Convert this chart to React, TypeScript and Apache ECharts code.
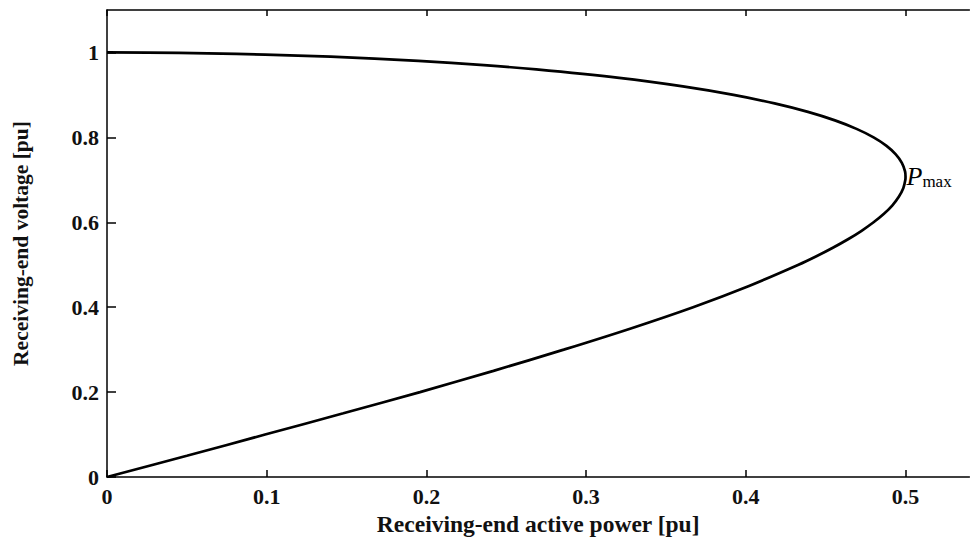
import React, { useEffect, useRef } from "react";
import * as echarts from "echarts";

// Receiving-end voltage [pu] (lower branch -> nose -> upper branch)
const voltage = [
  0.0, 0.05, 0.1, 0.15, 0.2, 0.25, 0.3, 0.35, 0.4, 0.45, 0.5, 0.52, 0.54, 0.56,
  0.58, 0.6, 0.62, 0.64, 0.66, 0.68, 0.7, 0.707, 0.72, 0.74, 0.76, 0.78, 0.8,
  0.82, 0.84, 0.86, 0.88, 0.9, 0.92, 0.94, 0.96, 0.97, 0.98, 0.99, 0.995, 0.998,
  0.999, 1.0,
];
// Receiving-end active power [pu]
const power = [
  0.0, 0.05, 0.099, 0.148, 0.196, 0.242, 0.286, 0.328, 0.367, 0.402, 0.433,
  0.4442, 0.4545, 0.464, 0.4725, 0.48, 0.4865, 0.4918, 0.4958, 0.4986, 0.4999,
  0.5, 0.4997, 0.4977, 0.4939, 0.4881, 0.48, 0.4693, 0.4558, 0.4389, 0.418,
  0.3923, 0.3606, 0.3207, 0.2688, 0.236, 0.195, 0.14, 0.099, 0.063, 0.045, 0.0,
];
const xTicks = [0, 0.1, 0.2, 0.3, 0.4, 0.5];
const yTicks = [0, 0.2, 0.4, 0.6, 0.8, 1];
const pmaxPoint = [0.5, 0.707];

const FONT = '"Liberation Serif", "DejaVu Serif", "Times New Roman", serif';

export default function App() {
  const ref = useRef<HTMLDivElement>(null);
  useEffect(() => {
    if (!ref.current) return;
    const chart = echarts.init(ref.current, null, { renderer: "svg" });
    const axisLine = { show: true, lineStyle: { color: "#000", width: 1.5 } };
    const tickLabel = {
      color: "#111",
      fontFamily: FONT,
      fontWeight: "bold" as const,
      fontSize: 22,
    };
    chart.setOption({
      animation: false,
      backgroundColor: "#fff",
      grid: { left: 107, right: 2.6, top: 10, bottom: 64 },
      xAxis: [
        {
          type: "value",
          min: 0,
          max: 0.54,
          position: "bottom",
          axisLine,
          splitLine: { show: false },
          axisTick: {
            show: true,
            inside: true,
            length: 7,
            lineStyle: { color: "#000", width: 1.5 },
            customValues: xTicks,
          },
          axisLabel: {
            ...tickLabel,
            margin: 8,
            customValues: xTicks,
            formatter: (v: number) => String(Number(v.toFixed(2))),
          },
          name: "Receiving-end active power [pu]",
          nameLocation: "middle",
          nameGap: 29,
          nameTextStyle: { ...tickLabel, fontSize: 23.5 },
        },
        {
          type: "value",
          min: 0,
          max: 0.54,
          position: "top",
          axisLine,
          splitLine: { show: false },
          axisTick: {
            show: true,
            inside: true,
            length: 6,
            lineStyle: { color: "#000", width: 1.5 },
            customValues: xTicks,
          },
          axisLabel: { show: false },
        },
      ],
      yAxis: {
        type: "value",
        min: 0,
        max: 1.1,
        axisLine,
        splitLine: { show: false },
        axisTick: {
          show: true,
          inside: true,
          length: 9,
          lineStyle: { color: "#000", width: 1.5 },
          customValues: yTicks,
        },
        axisLabel: {
          ...tickLabel,
          margin: 8,
          customValues: yTicks,
          formatter: (v: number) => String(Number(v.toFixed(2))),
        },
        name: "Receiving-end voltage [pu]",
        nameLocation: "middle",
        nameGap: 75,
        nameTextStyle: { ...tickLabel, fontSize: 21.5 },
      },
      series: [
        {
          type: "line",
          data: power.map((p, i) => [p, voltage[i]]),
          showSymbol: false,
          smooth: 0.3,
          lineStyle: { color: "#000", width: 2.7 },
          silent: true,
        },
        {
          type: "scatter",
          data: [pmaxPoint],
          symbolSize: 0,
          silent: true,
          itemStyle: { color: "#000" },
          label: {
            show: true,
            position: "right",
            distance: 1,
            color: "#000",
            opacity: 1,
            formatter: "{p|P}{s|max}",
            rich: {
              p: {
                fontFamily: FONT,
                fontStyle: "italic",
                fontSize: 26,
                color: "#000",
                lineHeight: 26,
              },
              s: {
                fontFamily: FONT,
                fontSize: 17,
                color: "#000",
                lineHeight: 16,
                verticalAlign: "bottom",
              },
            },
          },
        },
      ],
    });
    return () => chart.dispose();
  }, []);
  return (
    <div
      ref={ref}
      style={{ position: "absolute", left: 0, top: 0, width: 972, height: 541 }}
    />
  );
}
